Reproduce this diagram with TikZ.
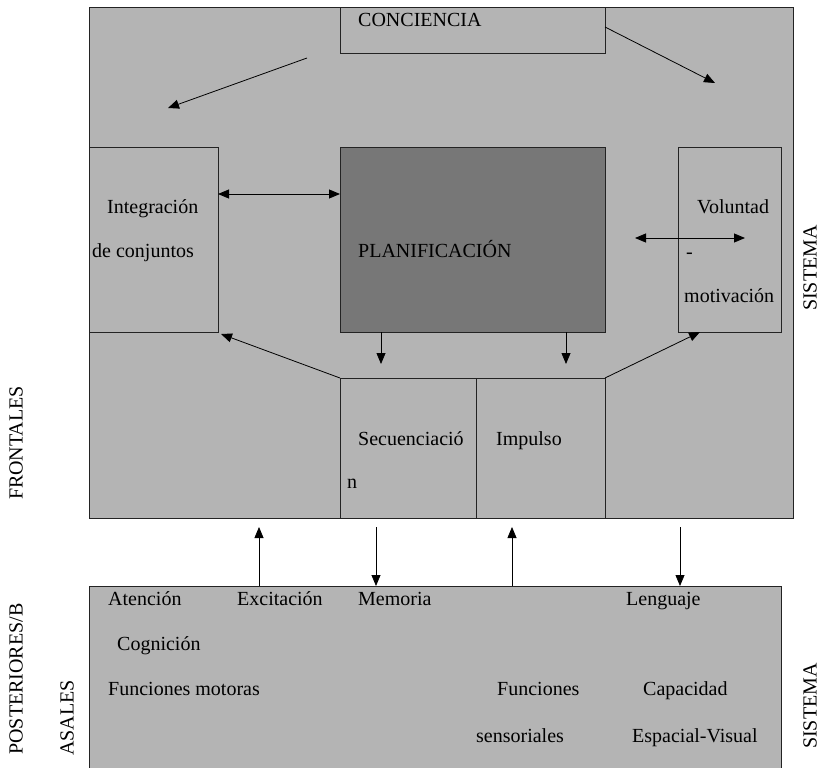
\documentclass[tikz,border=0pt]{standalone}
\usepackage{fontspec}
\setmainfont{Liberation Serif}
\usepackage{xcolor}
\usetikzlibrary{calc}
\usetikzlibrary {arrows.meta}

\definecolor{lightgr}{RGB}{180,180,180}
\definecolor{darkgr}{RGB}{119,119,119}
\definecolor{edgegr}{RGB}{35,35,35}

\begin{document}
\begin{tikzpicture}[x=1pt,y=-1pt]
%
\tikzstyle{box}=[draw=edgegr,line width=0.8pt,fill=lightgr,shape=rectangle,anchor=north west,inner sep=0pt,outer sep=0pt]
\tikzstyle{txt}=[anchor=west,inner sep=0pt,text height=14pt,text depth=4pt,font=\fontsize{20}{24}\selectfont]
\tikzstyle{side}=[inner sep=0pt,rotate=90,font=\fontsize{20}{24}\selectfont]
\tikzstyle{arr}=[-{Triangle[length=11pt,width=9pt]},line width=0.8pt]
\tikzstyle{darr}=[{Triangle[length=11pt,width=9pt]}-{Triangle[length=11pt,width=9pt]},line width=0.9pt]
%
\useasboundingbox (0,0) rectangle (822,768);
%
% sistema frontal
\node[box,minimum width=704pt,minimum height=511pt](front) at (89,7){};
\node[box,minimum width=265pt,minimum height=46pt](conc) at (340,7){};
\node[box,minimum width=129pt,minimum height=185pt](integ) at (89,147){};
\node[box,fill=darkgr,minimum width=265pt,minimum height=185pt](plan) at (340,147){};
\node[box,minimum width=103pt,minimum height=185pt](volun) at (678,147){};
\node[box,minimum width=136pt,minimum height=140pt](secu) at (340,378){};
\node[box,minimum width=129pt,minimum height=140pt](impul) at (476,378){};
%
% sistema posterior
\node[box,minimum width=692pt,minimum height=190pt](poster) at (89,586){};
%
\node[txt](tconc) at (358,22){CONCIENCIA};
\node[txt](tinteg1) at (107,208){Integración};
\node[txt](tinteg2) at (92,252){de conjuntos};
\node[txt](tplan) at (358,252){PLANIFICACIÓN};
\node[txt](tvolun1) at (697,208){Voluntad};
\node[txt](tvolun2) at (686,253){-};
\node[txt](tvolun3) at (684,297){motivación};
\node[txt](tsecu1) at (358,440){Secuenciació};
\node[txt](tsecu2) at (347,483){n};
\node[txt](timpul) at (496,440){Impulso};
%
\node[txt](taten) at (108,600){Atención};
\node[txt](texci) at (237,600){Excitación};
\node[txt](tmemo) at (358,600){Memoria};
\node[txt](tleng) at (626,600){Lenguaje};
\node[txt](tcogn) at (117,645){Cognición};
\node[txt](tmot) at (108,690){Funciones motoras};
\node[txt](tfun1) at (497,690){Funciones};
\node[txt](tfun2) at (476,737){sensoriales};
\node[txt](tcap1) at (643,690){Capacidad};
\node[txt](tcap2) at (632,737){Espacial-Visual};
%
\node[side](ssis1) at (810,268){SISTEMA};
\node[side](sfront) at (16,443){FRONTALES};
\node[side](spost) at (16,679){POSTERIORES/B};
\node[side](sbas) at (67,718){ASALES};
\node[side](ssis2) at (810,706){SISTEMA};
%
\coordinate (c1) at (307,58);
\coordinate (c2) at (168,108);
\coordinate (c3) at (715,83);
\coordinate (v1) at (635,238);
\coordinate (v2) at (745,238);
%
\draw[arr] (c1) -- (c2);
\draw[arr] ($(conc.north east)+(0,20)$) -- (c3);
\draw[darr] (integ.east |- 0,194) -- (plan.west |- 0,194);
\draw[darr] (v1) -- (v2);
\draw[arr] (plan.south -| 381,0) -- (381,364);
\draw[arr] (plan.south -| 566,0) -- (566,364);
\draw[arr] (secu.north west) -- ($(integ.south east)+(3,2)$);
\draw[arr] (impul.north east) -- ($(volun.south west)+(22,0)$);
%
\draw[arr] (poster.north -| 259,0) -- (259,527);
\draw[arr] (376,527) -- (poster.north -| 376,0);
\draw[arr] (poster.north -| 512,0) -- (512,527);
\draw[arr] (680,527) -- (poster.north -| 680,0);
\end{tikzpicture}
\end{document}
